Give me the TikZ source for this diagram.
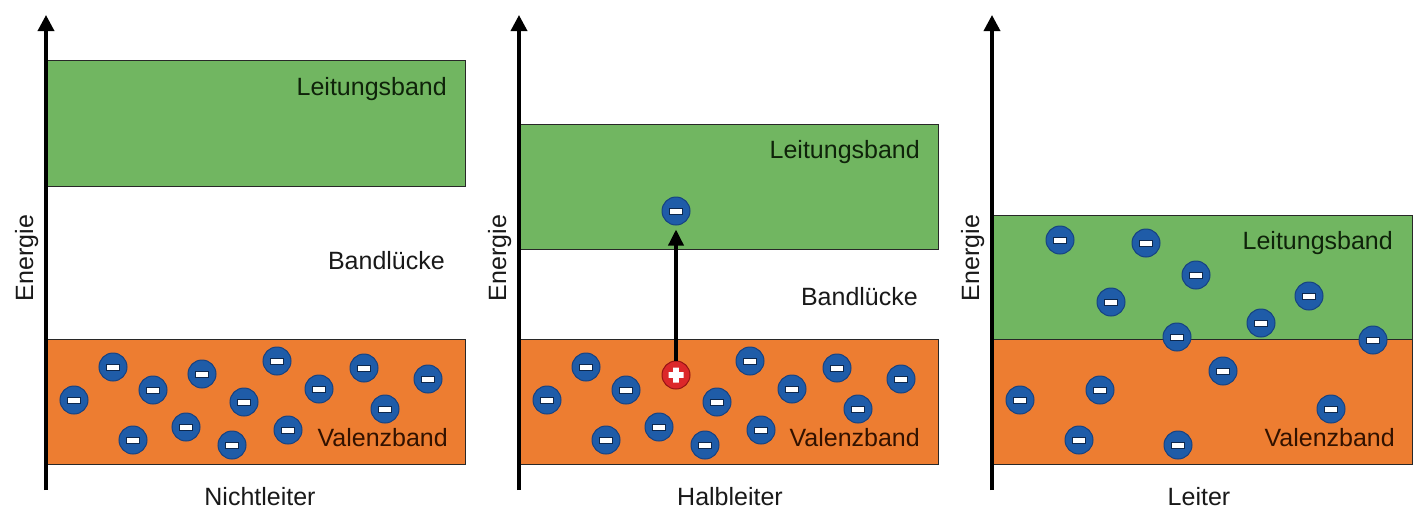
\documentclass[tikz,border=0pt]{standalone}
\usepackage{fontspec}
\setmainfont{Liberation Sans}
\usetikzlibrary{arrows.meta}
\definecolor{bandgreen}{RGB}{113,182,97}
\definecolor{bandorange}{RGB}{237,125,49}
\definecolor{eblue}{RGB}{31,92,168}
\definecolor{eborder}{RGB}{22,66,130}
\definecolor{hred}{RGB}{220,40,42}
\definecolor{hborder}{RGB}{150,20,20}
\definecolor{gtext}{RGB}{15,35,10}
\definecolor{otext}{RGB}{50,18,0}
\definecolor{ktext}{RGB}{25,25,25}
\tikzset{
  band/.style={draw={rgb,255:red,40;green,40;blue,40}, line width=0.8pt, inner sep=0pt, anchor=north west},
  axisline/.style={line width=3.5pt, -{Triangle[length=16pt,width=16pt]}},
  excite/.style={line width=3.5pt, -{Triangle[length=16pt,width=15pt]}},
  electron/.style={circle, fill=eblue, draw=eborder, line width=1pt, inner sep=0pt, minimum size=28pt,
    path picture={\fill[white,draw=eborder!60!black,line width=0.3pt,shift={(path picture bounding box.center)}] (-6.5pt,-3pt) rectangle (6.5pt,3pt);}},
  hole/.style={circle, fill=hred, draw=hborder, line width=1pt, inner sep=0pt, minimum size=28pt,
    path picture={\fill[white,shift={(path picture bounding box.center)}] (-7.5pt,-2.8pt) rectangle (7.5pt,2.8pt) (-2.8pt,-7.5pt) rectangle (2.8pt,7.5pt);}},
  lbl/.style={font=\fontsize{25}{30}\selectfont, inner sep=0pt},
}
\begin{document}
\begin{tikzpicture}[x=1pt,y=-1pt]
\useasboundingbox (0,0) rectangle (1428,523);
\fill[white] (0,0) rectangle (1428,523);

% ---------- Panel 1: Nichtleiter ----------
\node[band, fill=bandgreen, minimum width=419pt, minimum height=126pt] (c1) at (46,60) {};
\node[band, fill=bandorange, minimum width=419pt, minimum height=125pt] (v1) at (46,339) {};
\coordinate (a1b) at (46,490);
\coordinate (a1t) at (46,15);
\draw[axisline] (a1b) -- (a1t);
\node[lbl, text=gtext, anchor=base east] (l1) at (447,95) {Leitungsband};
\node[lbl, text=ktext, anchor=base east] (g1) at (445,269) {Bandlücke};
\node[lbl, text=otext, anchor=base east] (vl1) at (448,446) {Valenzband};
\node[lbl, text=ktext, anchor=base] (n1) at (260,505) {Nichtleiter};
\node[lbl, text=ktext, anchor=base, rotate=90] (en1) at (33,258) {Energie};
\foreach \x/\y [count=\i] in {74/400,113/367,153/390,133/440,186/427,202/374,244/402,232/445,277/361,288/430,319/389,364/368,385/409,428/379}
  \node[electron] (p1e\i) at (\x,\y) {};

% ---------- Panel 2: Halbleiter ----------
\node[band, fill=bandgreen, minimum width=419pt, minimum height=125pt] (c2) at (519,124) {};
\node[band, fill=bandorange, minimum width=419pt, minimum height=125pt] (v2) at (519,339) {};
\coordinate (a2b) at (519,490);
\coordinate (a2t) at (519,15);
\draw[axisline] (a2b) -- (a2t);
\node[lbl, text=gtext, anchor=base east] (l2) at (920,158) {Leitungsband};
\node[lbl, text=ktext, anchor=base east] (g2) at (918,305) {Bandlücke};
\node[lbl, text=otext, anchor=base east] (vl2) at (920,446) {Valenzband};
\node[lbl, text=ktext, anchor=base] (n2) at (730,505) {Halbleiter};
\node[lbl, text=ktext, anchor=base, rotate=90] (en2) at (506,258) {Energie};
\foreach \x/\y [count=\i] in {547/400,586/367,626/390,606/440,659/427,717/402,705/445,750/361,761/430,792/389,837/368,858/409,901/379}
  \node[electron] (p2e\i) at (\x,\y) {};
\node[hole] (h2) at (676,375) {};
\node[electron] (up2) at (676,211) {};
\draw[excite] (h2.north) -- ([yshift=-4pt]up2.south);

% ---------- Panel 3: Leiter ----------
\node[band, fill=bandgreen, minimum width=420pt, minimum height=124pt] (c3) at (992,215) {};
\node[band, fill=bandorange, minimum width=420pt, minimum height=125pt] (v3) at (992,339) {};
\coordinate (a3b) at (992,490);
\coordinate (a3t) at (992,15);
\draw[axisline] (a3b) -- (a3t);
\node[lbl, text=gtext, anchor=base east] (l3) at (1393,249) {Leitungsband};
\node[lbl, text=otext, anchor=base east] (vl3) at (1395,446) {Valenzband};
\node[lbl, text=ktext, anchor=base] (n3) at (1199,505) {Leiter};
\node[lbl, text=ktext, anchor=base, rotate=90] (en3) at (979,258) {Energie};
\foreach \x/\y [count=\i] in {1060/240,1146/243,1196/275,1111/302,1309/296,1261/323,1177/337,1373/340,1223/371,1100/390,1020/400,1331/409,1079/440,1178/445}
  \node[electron] (p3e\i) at (\x,\y) {};
\end{tikzpicture}
\end{document}
